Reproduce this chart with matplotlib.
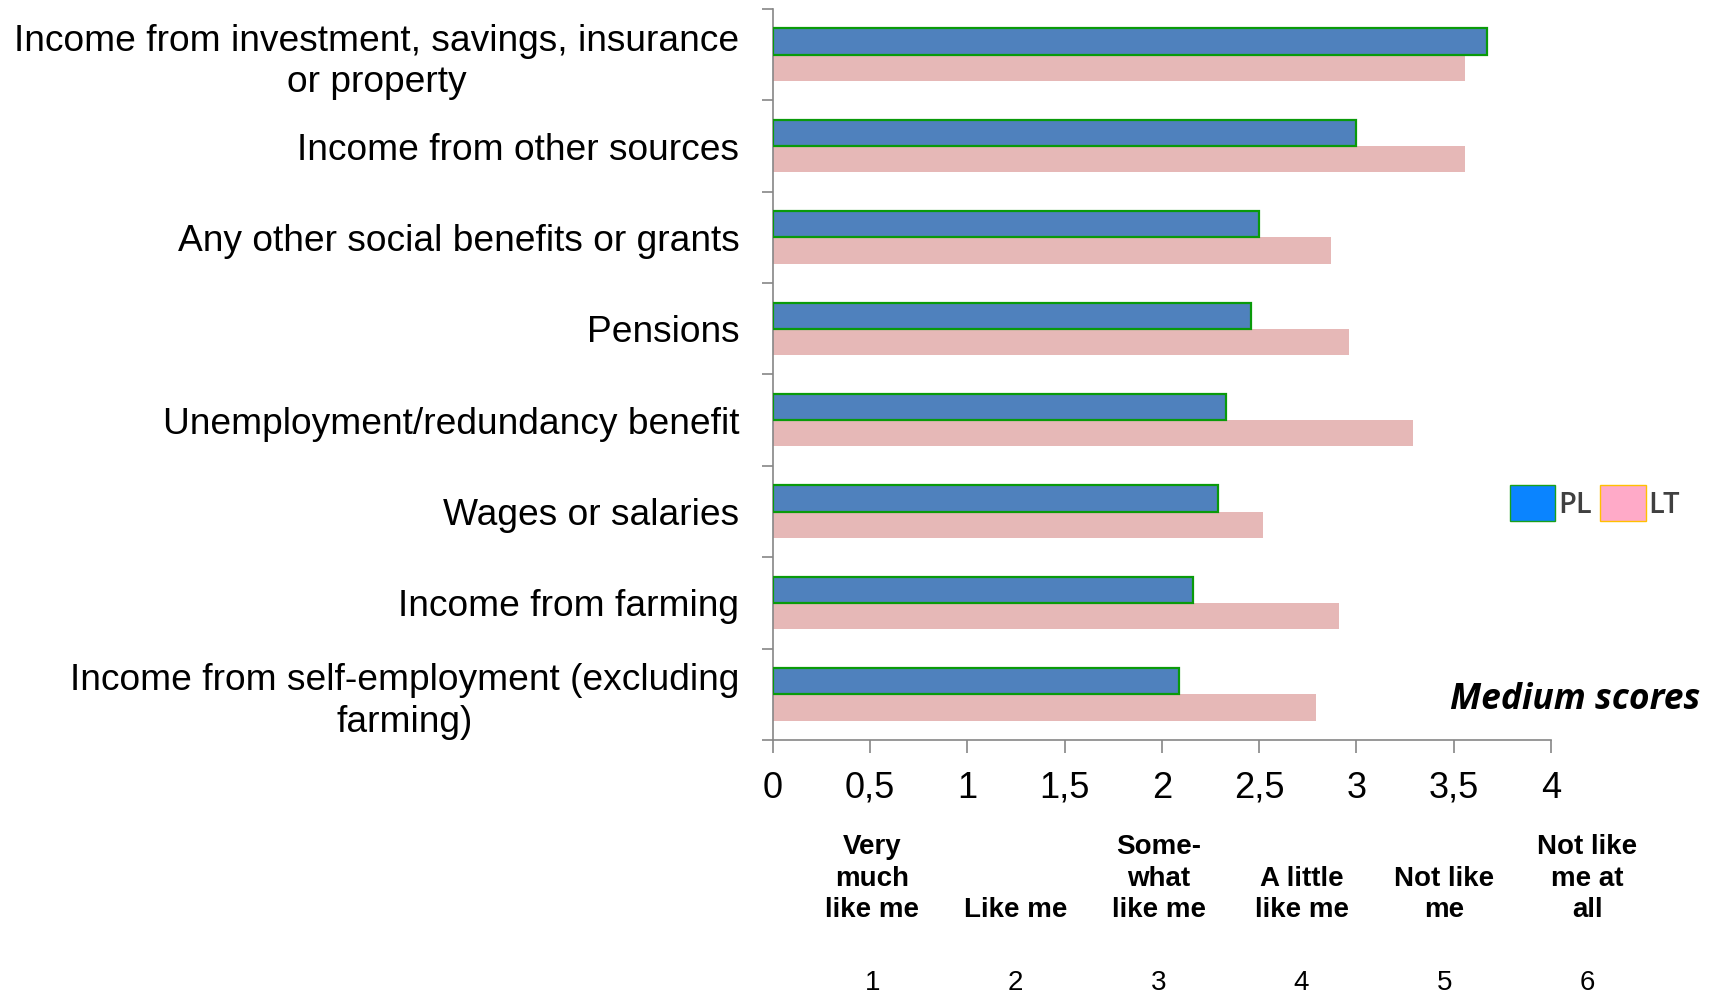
import numpy as np
import matplotlib.pyplot as plt
from matplotlib import rcParams
from matplotlib.patches import Patch
from matplotlib.transforms import blended_transform_factory

# ===== data =====
categories = [
    'Income from investment, savings, insurance\nor property',
    'Income from other sources',
    'Any other social benefits or grants',
    'Pensions',
    'Unemployment/redundancy benefit',
    'Wages or salaries',
    'Income from farming',
    'Income from self-employment (excluding\nfarming)',
]
pl_scores = [3.67, 3.00, 2.50, 2.46, 2.33, 2.29, 2.16, 2.09]
lt_scores = [3.56, 3.56, 2.87, 2.96, 3.29, 2.52, 2.91, 2.79]

x_ticks = [0, 0.5, 1, 1.5, 2, 2.5, 3, 3.5, 4]
x_ticklabels = ['0', '0,5', '1', '1,5', '2', '2,5', '3', '3,5', '4']

scale_labels = ['Very\nmuch\nlike me', 'Like me', 'Some-\nwhat\nlike me',
                'A little\nlike me', 'Not like\nme', 'Not like\nme at\nall']
scale_numbers = ['1', '2', '3', '4', '5', '6']

# ===== style =====
rcParams['font.family'] = ['Liberation Sans', 'DejaVu Sans']
rcParams['axes.edgecolor'] = '#868686'
rcParams['xtick.color'] = '#868686'
rcParams['ytick.color'] = '#868686'

fig = plt.figure(figsize=(17.17, 9.96), dpi=100)
ax = fig.add_axes([0.450, 0.257, 0.4533, 0.734])

y = np.arange(len(categories))
h = 0.287
ax.barh(y - h / 2, pl_scores, height=h, color='#4f81bd',
        edgecolor='#0a9a0a', linewidth=1.6, label='PL', zorder=3)
ax.barh(y + h / 2, lt_scores, height=h, color='#e6b8b7',
        edgecolor='none', label='LT', zorder=2)

ax.set_ylim(len(categories) - 0.5, -0.5)
ax.set_xlim(0, 4)

# y axis: labels at centres, tick marks at slot boundaries
ax.set_yticks(y)
ax.set_yticklabels(categories, fontsize=26.7, color='black',
                   multialignment='center', linespacing=1.25)
ax.tick_params(axis='y', which='major', length=0, pad=24)
ax.set_yticks(np.arange(-0.5, len(categories)), minor=True)
ax.tick_params(axis='y', which='minor', length=8, width=1.2, direction='out')

ax.set_xticks(x_ticks)
ax.set_xticklabels(x_ticklabels, fontsize=26, color='black')
ax.tick_params(axis='x', length=9, width=1.2, pad=13)

for s in ['top', 'right']:
    ax.spines[s].set_visible(False)
for s in ['left', 'bottom']:
    ax.spines[s].set_linewidth(1.2)

# scale labels under the x axis
trans = blended_transform_factory(ax.transData, fig.transFigure)
for i, (lab, num) in enumerate(zip(scale_labels, scale_numbers)):
    xpos = 0.513 + i * 0.735
    ax.text(xpos, 0.073, lab, transform=trans, ha='center', va='bottom',
            fontsize=20, fontweight='bold', linespacing=1.27, clip_on=False)
    ax.text(xpos, 0.013, num, transform=trans, ha='center', va='center',
            fontsize=20, clip_on=False)

fig.text(0.990, 0.297, 'Medium scores', ha='right', va='center',
         fontsize=25.5, fontweight='bold', fontstyle='italic',
         family=['Open Sans', 'DejaVu Sans'])

handles = [Patch(facecolor='#0a84ff', edgecolor='#1aa01a', label='PL'),
           Patch(facecolor='#ffaac8', edgecolor='#ffc000', label='LT')]
leg = fig.legend(handles=handles, loc='center', bbox_to_anchor=(0.929, 0.495),
                 ncol=2, frameon=False, handlelength=1.55, handleheight=1.55,
                 handletextpad=0.1, columnspacing=0.3,
                 prop={'family': 'Open Sans', 'size': 21, 'weight': 'semibold'})
for t in leg.get_texts():
    t.set_color('#404040')

fig.savefig('out.png', dpi=100)
